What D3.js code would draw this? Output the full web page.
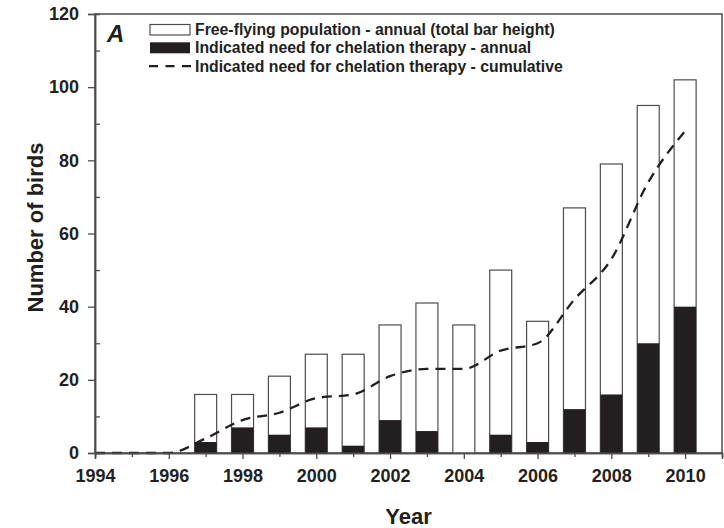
<!DOCTYPE html>
<html>
<head>
<meta charset="utf-8">
<script src="https://cdn.jsdelivr.net/npm/d3@7"></script>
<style>
  body { margin: 0; background: #fff; }
  text { font-family: "Liberation Sans", Arial, sans-serif; }
</style>
</head>
<body>
<svg id="chart"></svg>
<script>
// values
const years = [1994, 1995, 1996, 1997, 1998, 1999, 2000, 2001, 2002, 2003, 2004, 2005, 2006, 2007, 2008, 2009, 2010];
const freeFlying = [0, 0, 0, 16, 16, 21, 27, 27, 35, 41, 35, 50, 36, 67, 79, 95, 102];
const chelationAnnual = [0, 0, 0, 3, 7, 5, 7, 2, 9, 6, 0, 5, 3, 12, 16, 30, 40];
const chelationCumulative = [0, 0, 0, 4, 9, 11, 15, 16, 21, 23, 23, 28, 30, 42, 53, 74, 88];
const yTicks = [0, 20, 40, 60, 80, 100, 120];
const yMinorTicks = [10, 30, 50, 70, 90, 110];
const legendLabels = [
  "Free-flying population - annual (total bar height)",
  "Indicated need for chelation therapy - annual",
  "Indicated need for chelation therapy - cumulative"
];

const width = 724, height = 528;
const margin = { top: 14, right: 2, bottom: 75, left: 95 };
const ink = "#231f20", grey = "#4d4d4d";

const svg = d3.select("#chart")
  .attr("width", width)
  .attr("height", height);

const data = years.map((y, i) => ({
  year: y,
  total: freeFlying[i],
  annual: chelationAnnual[i],
  cum: chelationCumulative[i]
}));

// x is a continuous year scale, the last year slot is empty
const x = d3.scaleLinear()
  .domain([1994, 2011])
  .range([margin.left, width - margin.right]);

const y = d3.scaleLinear()
  .domain([0, 120])
  .range([height - margin.bottom, margin.top]);

const barW = 22;

// frame
svg.append("rect")
  .attr("x", x(1994))
  .attr("y", y(120))
  .attr("width", x(2011) - x(1994))
  .attr("height", y(0) - y(120))
  .attr("fill", "none")
  .attr("stroke", grey)
  .attr("stroke-width", 1.5);

// bars
const bars = svg.append("g")
  .selectAll("g")
  .data(data.filter(d => d.total > 0))
  .join("g");

bars.append("rect")
  .attr("x", d => x(d.year) - barW / 2)
  .attr("y", d => y(d.total))
  .attr("width", barW)
  .attr("height", d => y(0) - y(d.total))
  .attr("fill", "#fff")
  .attr("stroke", grey)
  .attr("stroke-width", 1.2);

bars.filter(d => d.annual > 0)
  .append("rect")
  .attr("x", d => x(d.year) - barW / 2)
  .attr("y", d => y(d.annual))
  .attr("width", barW)
  .attr("height", d => y(0) - y(d.annual))
  .attr("fill", ink);

// cumulative line
const line = d3.line()
  .x(d => x(d.year))
  .y(d => y(d.cum))
  .curve(d3.curveMonotoneX);

svg.append("path")
  .datum(data)
  .attr("d", line)
  .attr("fill", "none")
  .attr("stroke", ink)
  .attr("stroke-width", 2.3)
  .attr("stroke-dasharray", "10,7");

// axes
function styleAxis(g) {
  g.select(".domain").attr("stroke", grey).attr("stroke-width", 1.5);
  g.selectAll(".tick line").attr("stroke", grey).attr("stroke-width", 1.3);
  g.selectAll("text")
    .attr("fill", ink)
    .style("font-size", "18px")
    .style("font-weight", "bold");
}

svg.append("g")
  .attr("transform", `translate(0,${y(0)})`)
  .call(d3.axisBottom(x).tickValues(years.filter(v => v % 2 === 1)).tickSize(4).tickFormat(""))
  .call(styleAxis);

svg.append("g")
  .attr("transform", `translate(0,${y(0)})`)
  .call(d3.axisBottom(x).tickValues(years.filter(v => v % 2 === 0)).tickSize(6).tickPadding(10).tickFormat(d3.format("d")))
  .call(styleAxis);

svg.append("g")
  .attr("transform", `translate(${x(1994)},0)`)
  .call(d3.axisLeft(y).tickValues(yMinorTicks).tickSize(-5).tickFormat(""))
  .call(styleAxis);

svg.append("g")
  .attr("transform", `translate(${x(1994)},0)`)
  .call(d3.axisLeft(y).tickValues(yTicks).tickSize(7).tickPadding(9))
  .call(styleAxis);

// axis titles
svg.append("text")
  .attr("transform", `translate(43,${(y(0) + y(120)) / 2 - 6}) rotate(-90)`)
  .attr("text-anchor", "middle")
  .attr("fill", ink)
  .style("font-size", "22px")
  .style("font-weight", "bold")
  .text("Number of birds");

svg.append("text")
  .attr("x", (x(1994) + x(2011)) / 2)
  .attr("y", 524)
  .attr("text-anchor", "middle")
  .attr("fill", ink)
  .style("font-size", "22px")
  .style("font-weight", "bold")
  .text("Year");

// panel letter
svg.append("text")
  .attr("x", 107)
  .attr("y", 42)
  .attr("fill", ink)
  .style("font-size", "24px")
  .style("font-weight", "bold")
  .style("font-style", "italic")
  .text("A");

// legend
const legend = svg.append("g").attr("transform", "translate(150,24)");
const rowH = 18.3;

legend.append("rect")
  .attr("x", 0).attr("y", 0.5)
  .attr("width", 40).attr("height", 10.5)
  .attr("fill", "#fff")
  .attr("stroke", grey)
  .attr("stroke-width", 1.2);

legend.append("rect")
  .attr("x", 0).attr("y", rowH)
  .attr("width", 40).attr("height", 11)
  .attr("fill", ink);

legend.append("line")
  .attr("x1", -1).attr("x2", 43)
  .attr("y1", rowH * 2 + 5.5).attr("y2", rowH * 2 + 5.5)
  .attr("stroke", ink)
  .attr("stroke-width", 2.3)
  .attr("stroke-dasharray", "9,7.5");

legend.selectAll("text.lbl")
  .data(legendLabels)
  .join("text")
  .attr("class", "lbl")
  .attr("x", 45)
  .attr("y", (d, i) => 11 + i * rowH)
  .attr("fill", ink)
  .style("font-size", "15.8px")
  .style("font-weight", "bold")
  .text(d => d);
</script>
</body>
</html>
